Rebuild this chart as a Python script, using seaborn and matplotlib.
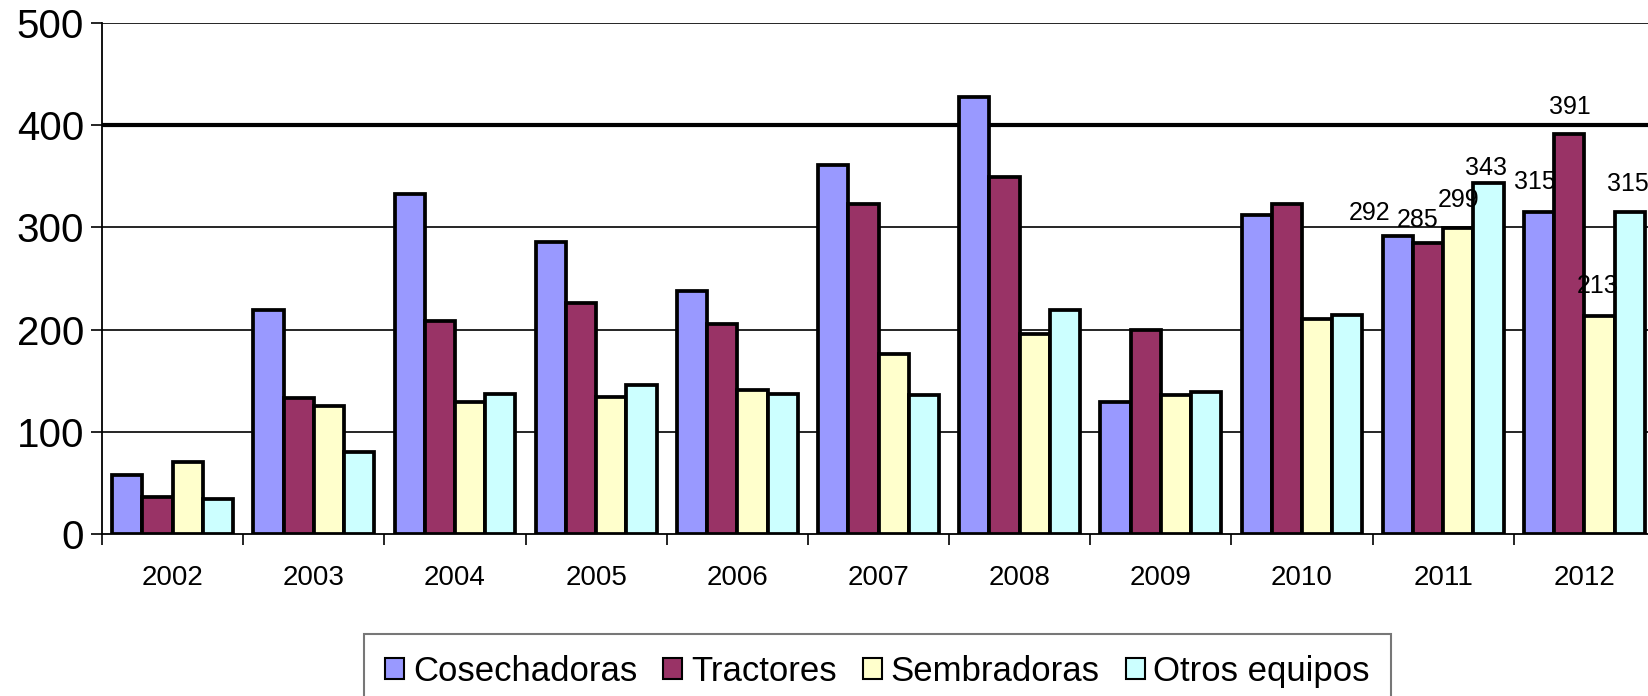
import numpy as np
import pandas as pd
import matplotlib
matplotlib.use("Agg")
import matplotlib.pyplot as plt
import seaborn as sns

# ---------------- data ----------------
years = ['2002', '2003', '2004', '2005', '2006', '2007', '2008', '2009', '2010', '2011', '2012']
cosechadoras = [58, 219, 333, 286, 238, 361, 428, 129, 312, 292, 315]
tractores = [36, 133, 208, 226, 205, 323, 349, 200, 323, 285, 391]
sembradoras = [70, 125, 129, 134, 141, 176, 196, 136, 210, 299, 213]
otros_equipos = [34, 80, 137, 146, 137, 136, 219, 139, 214, 343, 315]
series_names = ['Cosechadoras', 'Tractores', 'Sembradoras', 'Otros equipos']
labeled_years = ['2011', '2012']
y_ticks = [0, 100, 200, 300, 400, 500]

# ---------------- style ----------------
colors = ['#9999FF', '#993366', '#FFFFCC', '#CCFFFF']
label_offsets = {
    ('Cosechadoras', '2011'): (-28, 23), ('Tractores', '2011'): (-10, 23),
    ('Sembradoras', '2011'): (0, 28), ('Otros equipos', '2011'): (-3, 15),
    ('Cosechadoras', '2012'): (-4, 30), ('Tractores', '2012'): (1, 27),
    ('Sembradoras', '2012'): (-2, 30), ('Otros equipos', '2012'): (-2, 28),
}

sns.set_style("white")
plt.rcParams['font.family'] = ['Liberation Sans', 'DejaVu Sans']
plt.rcParams['text.color'] = 'black'
plt.rcParams['xtick.color'] = 'black'
plt.rcParams['ytick.color'] = 'black'

df = pd.DataFrame({
    'year': years * 4,
    'series': sum([[s] * len(years) for s in series_names], []),
    'value': cosechadoras + tractores + sembradoras + otros_equipos,
})

W, H = 1648, 696
fig = plt.figure(figsize=(W / 100, H / 100), dpi=100)
left, right, top, bottom = 102, 1655, 23, 534
ax = fig.add_axes([left / W, 1 - bottom / H, (right - left) / W, (bottom - top) / H])

sns.barplot(data=df, x='year', y='value', hue='series', order=years,
            hue_order=series_names, palette=colors, saturation=1,
            width=0.856, edgecolor='black', linewidth=2.7, ax=ax, zorder=3)

handles, labels = ax.get_legend_handles_labels()
ax.get_legend().remove()

ax.set_xlim(-0.5, len(years) - 0.5)
ax.set_ylim(0, 500)
ax.set_yticks(y_ticks)
ax.set_xlabel('')
ax.set_ylabel('')

for v in y_ticks[1:]:
    lw = 3.0 if v == 400 else 1.2
    ax.axhline(v, color='black', lw=lw, zorder=1)

for s in ['top', 'right']:
    ax.spines[s].set_visible(False)
for s in ['left', 'bottom']:
    ax.spines[s].set_color('black')
    ax.spines[s].set_linewidth(1.3)
    ax.spines[s].set_zorder(4)

ax.set_xticks(np.arange(-0.5, len(years), 1.0), minor=True)
ax.tick_params(axis='x', which='major', length=0, pad=22, labelsize=20, labelcolor='black')
ax.tick_params(axis='x', which='minor', length=8, width=1.2, color='black', direction='out')
ax.tick_params(axis='y', which='major', length=8, width=1.2, color='black',
               direction='out', labelsize=29, pad=5, labelcolor='black')
ax.yaxis.set_tick_params(left=True)
ax.xaxis.set_tick_params(bottom=True, which='minor')

for name, cont in zip(series_names, ax.containers):
    for yr, bar in zip(years, cont):
        if yr in labeled_years:
            dx, dy = label_offsets[(name, yr)]
            ax.annotate(f"{bar.get_height():.0f}",
                        xy=(bar.get_x() + bar.get_width() / 2, bar.get_height()),
                        xytext=(dx, dy), textcoords='offset pixels',
                        ha='center', va='center', fontsize=18, color='black', zorder=5)

leg = fig.legend(handles, labels, loc='upper center',
                 bbox_to_anchor=(877.5 / W, 1 - 634 / H), ncol=4,
                 fontsize=25, frameon=True, fancybox=False,
                 edgecolor='#555555', handlelength=0.55, handleheight=0.55,
                 handletextpad=0.25, columnspacing=0.75, borderpad=0.6,
                 borderaxespad=0)
leg.get_frame().set_linewidth(1.5)
for t in leg.get_texts():
    t.set_color('black')
for h in leg.legend_handles:
    h.set_edgecolor('black')
    h.set_linewidth(1.5)

fig.savefig('out.png', dpi=100)
